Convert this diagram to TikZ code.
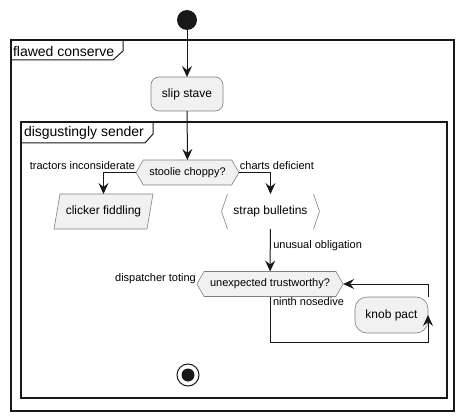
\documentclass[tikz,border=0pt]{standalone}
\usepackage{fontspec}
\setmainfont{Liberation Sans}
\usepackage{tikz}
\usetikzlibrary{shapes,shapes.symbols,arrows.meta}
\definecolor{umlFill}{RGB}{241,241,241}
\definecolor{umlInk}{RGB}{24,24,24}
\definecolor{umlEdge}{RGB}{128,128,128}

\begin{document}
\begin{tikzpicture}[x=1pt, y=-1pt]%
  \tikzset{flow arrow/.style={draw,-{Stealth[length=11pt,width=10pt,inset=4pt]},line width=1pt,umlInk}}
  \tikzset{frame line/.style={draw,line width=1.5pt,umlInk}}
  \tikzset{tab line/.style={draw,line width=1pt,umlInk}}
  \tikzset{action/.style={fill=umlFill, draw=umlEdge, line width=0.6pt, rounded corners=8pt, minimum height=34pt, inner xsep=0pt, font=\fontsize{12}{14}\selectfont}}
  \tikzset{choice/.style={shape=signal, signal to=west and east, signal pointer angle=120, fill=umlFill, draw=umlEdge, line width=0.6pt, minimum height=25pt, inner xsep=6pt, inner ysep=0pt, font=\fontsize{11}{13}\selectfont}}
  \tikzset{guard/.style={font=\fontsize{11}{13}\selectfont, inner sep=1pt}}
  \tikzset{title/.style={anchor=west, font=\fontsize{14}{16}\selectfont, inner sep=1pt}}
  \tikzstyle{every node}=[outer sep=0pt, text=black]

  \useasboundingbox (0,0) rectangle (464,420);

  % frames
  \draw[frame line] (11,40) rectangle (454,411);
  \node[title] (FC) at (12,51) {flawed conserve};
  \draw[tab line] (11,60) -- (113,60) -- (123,51) -- (123,40);

  \draw[frame line] (21,122) rectangle (447,398);
  \node[title] (DS) at (23,133) {disgustingly sender};
  \draw[tab line] (21,143) -- (145,143) -- (153,134) -- (153,122);

  % nodes
  \node[circle, fill=umlInk, minimum size=20pt, inner sep=0pt] at (187,20) (start) {};
  \node[action, minimum width=72pt] at (187,94) (SS) {slip stave};
  \node[choice] at (187.5,172.5) (SC) {stoolie choppy?};
  \filldraw[fill=umlFill, draw=umlEdge, line width=0.6pt] (54,229) -- (60,194) -- (153,194) -- (147,229) -- cycle;
  \node[minimum width=87pt, minimum height=35pt, font=\fontsize{12}{14}\selectfont] at (103.5,211.5) (CF) {clicker fiddling};
  \node[minimum width=98pt, minimum height=35pt, font=\fontsize{12}{14}\selectfont] at (270.5,211.5) (SB) {strap bulletins};
  \node[choice] at (270,284) (UT) {unexpected trustworthy?};
  \node[action, minimum width=73pt, minimum height=36pt, rounded corners=12pt] at (391.5,315) (KP) {knob pact};
  \node[circle, draw=umlInk, line width=1pt, minimum size=22pt, inner sep=0pt] at (188,375) (stop) {};
  \fill[umlInk] (stop.center) circle (6.5pt);
  \coordinate (loop) at (428,342);

  % strap brackets
  \draw[umlEdge, line width=0.6pt] ([xshift=6pt]SB.north west) -- (SB.west) -- ([xshift=6pt]SB.south west);
  \draw[umlEdge, line width=0.6pt] ([xshift=-6pt]SB.north east) -- (SB.east) -- ([xshift=-6pt]SB.south east);

  % connectors
  \path[flow arrow] (start) -- (SS);
  \path[flow arrow] (SS) -- (SC);
  \path[flow arrow] (SC.west) -| node[guard, anchor=base east, pos=0, yshift=3pt] {tractors inconsiderate} (CF.north);
  \path[flow arrow] (SC.east) -| node[guard, anchor=base west, pos=0, yshift=3pt] {charts deficient} (SB.north);
  \path[flow arrow] (SB) -- node[guard, anchor=west, pos=0.4, xshift=2pt] {unusual obligation} (UT);
  \node[guard, anchor=base east] (DT) at ([yshift=3pt]UT.west) {dispatcher toting};
  \path[flow arrow] (UT.south) |- node[guard, anchor=north west, pos=0, xshift=2pt] {ninth nosedive} (loop) -- (KP.east);
  \path[flow arrow] (KP.north east) |- (UT.east);
\end{tikzpicture}
\end{document}
